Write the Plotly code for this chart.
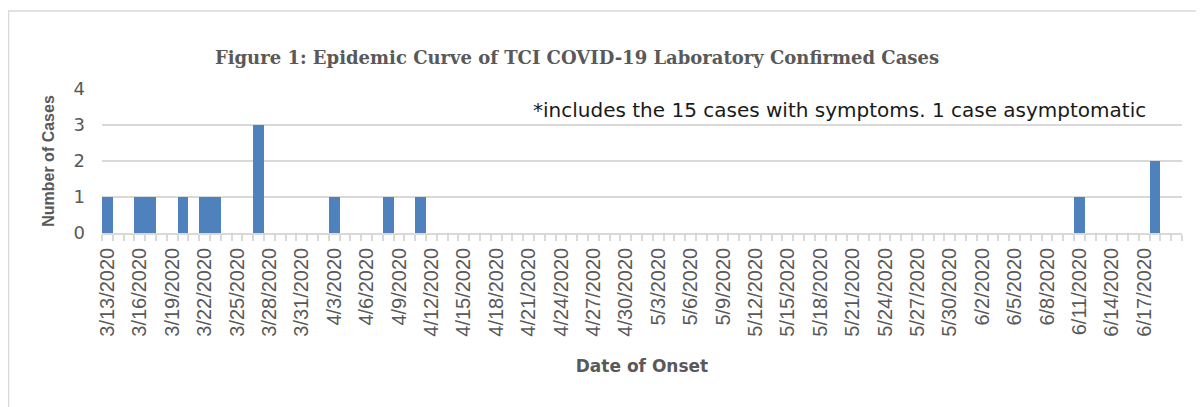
import plotly.graph_objects as go
import pandas as pd

# Data: date of onset -> number of cases
onset_dates = ["2020-03-13", "2020-03-16", "2020-03-17", "2020-03-20", "2020-03-22",
               "2020-03-23", "2020-03-27", "2020-04-03", "2020-04-08", "2020-04-11",
               "2020-06-11", "2020-06-18"]
case_counts = [1, 1, 1, 1, 1, 1, 3, 1, 1, 1, 1, 2]

first_day = "2020-03-13"
last_day = "2020-06-20"
last_label_day = "2020-06-17"

title_text = "Figure 1: Epidemic Curve of TCI COVID-19 Laboratory Confirmed Cases"
note_text = "*includes the 15 cases with symptoms. 1 case asymptomatic"

all_days = pd.date_range(first_day, last_day, freq="D")
counts = pd.Series(0, index=all_days)
for d, c in zip(onset_dates, case_counts):
    counts[pd.Timestamp(d)] = c
label_days = pd.date_range(first_day, last_label_day, freq="3D")

fig = go.Figure(go.Bar(
    x=counts.index, y=counts.values,
    marker=dict(color="#4f81bd", line=dict(width=0)),
    hoverinfo="x+y",
))

half = pd.Timedelta(hours=12)
OFF = 8  # page body margin
W, H = 1196, 399
ml, mr, mt, mb = 94, 22, 81, 174
pw, ph = W - ml - mr, H - mt - mb


def px_x(X):
    return (X - OFF - ml) / pw


def px_y(Y):
    return (H - mb - (Y - OFF)) / ph


fig.update_layout(
    width=W, height=H,
    margin=dict(l=ml, r=mr, t=mt, b=mb),
    paper_bgcolor="white", plot_bgcolor="white",
    bargap=0.0, showlegend=False,
    font=dict(family="Liberation Sans", color="#595959"),
    title=dict(text="<b>" + title_text + "</b>", x=(577 - OFF) / W, xanchor="center",
               y=1 - (58 - OFF) / H, yanchor="middle",
               font=dict(family="DejaVu Serif", size=18, color="#595959")),
    xaxis=dict(
        type="date", automargin=False,
        range=[all_days[0] - half, all_days[-1] + half],
        tickmode="array", tickvals=label_days,
        tickformat="%-m/%-d/%Y", tickangle=-90,
        tickfont=dict(family="Liberation Sans", size=20, color="#595959"),
        ticklabelstandoff=5,
        ticks="", showgrid=False,
        showline=True, linecolor="#d9d9d9", linewidth=1.5,
        minor=dict(tick0=all_days[0] - half, dtick=86400000, ticks="outside",
                   ticklen=6, tickcolor="#d9d9d9", tickwidth=1.5, showgrid=False),
        title=dict(text="<b>Date of Onset</b>",
                   font=dict(family="DejaVu Sans", size=17, color="#595959"),
                   standoff=24),
        fixedrange=True,
    ),
    yaxis=dict(
        automargin=False,
        range=[0, 4], dtick=1, tick0=0,
        showgrid=True, gridcolor="#d9d9d9", gridwidth=1.5,
        zeroline=False, ticks="", showline=False,
        ticklabelstandoff=16,
        tickfont=dict(family="DejaVu Sans", size=18, color="#595959"),
        title=dict(text="<b>Number of Cases</b>",
                   font=dict(family="Liberation Sans", size=16, color="#595959"),
                   standoff=14),
        fixedrange=True,
    ),
    annotations=[dict(
        text=note_text, xref="paper", yref="paper",
        x=px_x(531), y=px_y(110),
        xanchor="left", yanchor="middle", showarrow=False,
        font=dict(family="DejaVu Sans", size=20, color="#1a1a1a"),
    )],
    shapes=[dict(
        type="rect", xref="paper", yref="paper",
        x0=px_x(8.5), x1=px_x(1215),
        y0=px_y(420), y1=px_y(11),
        line=dict(color="#d9d9d9", width=1.5), fillcolor="rgba(0,0,0,0)", layer="below",
    )],
)

fig.write_html("out.html")
